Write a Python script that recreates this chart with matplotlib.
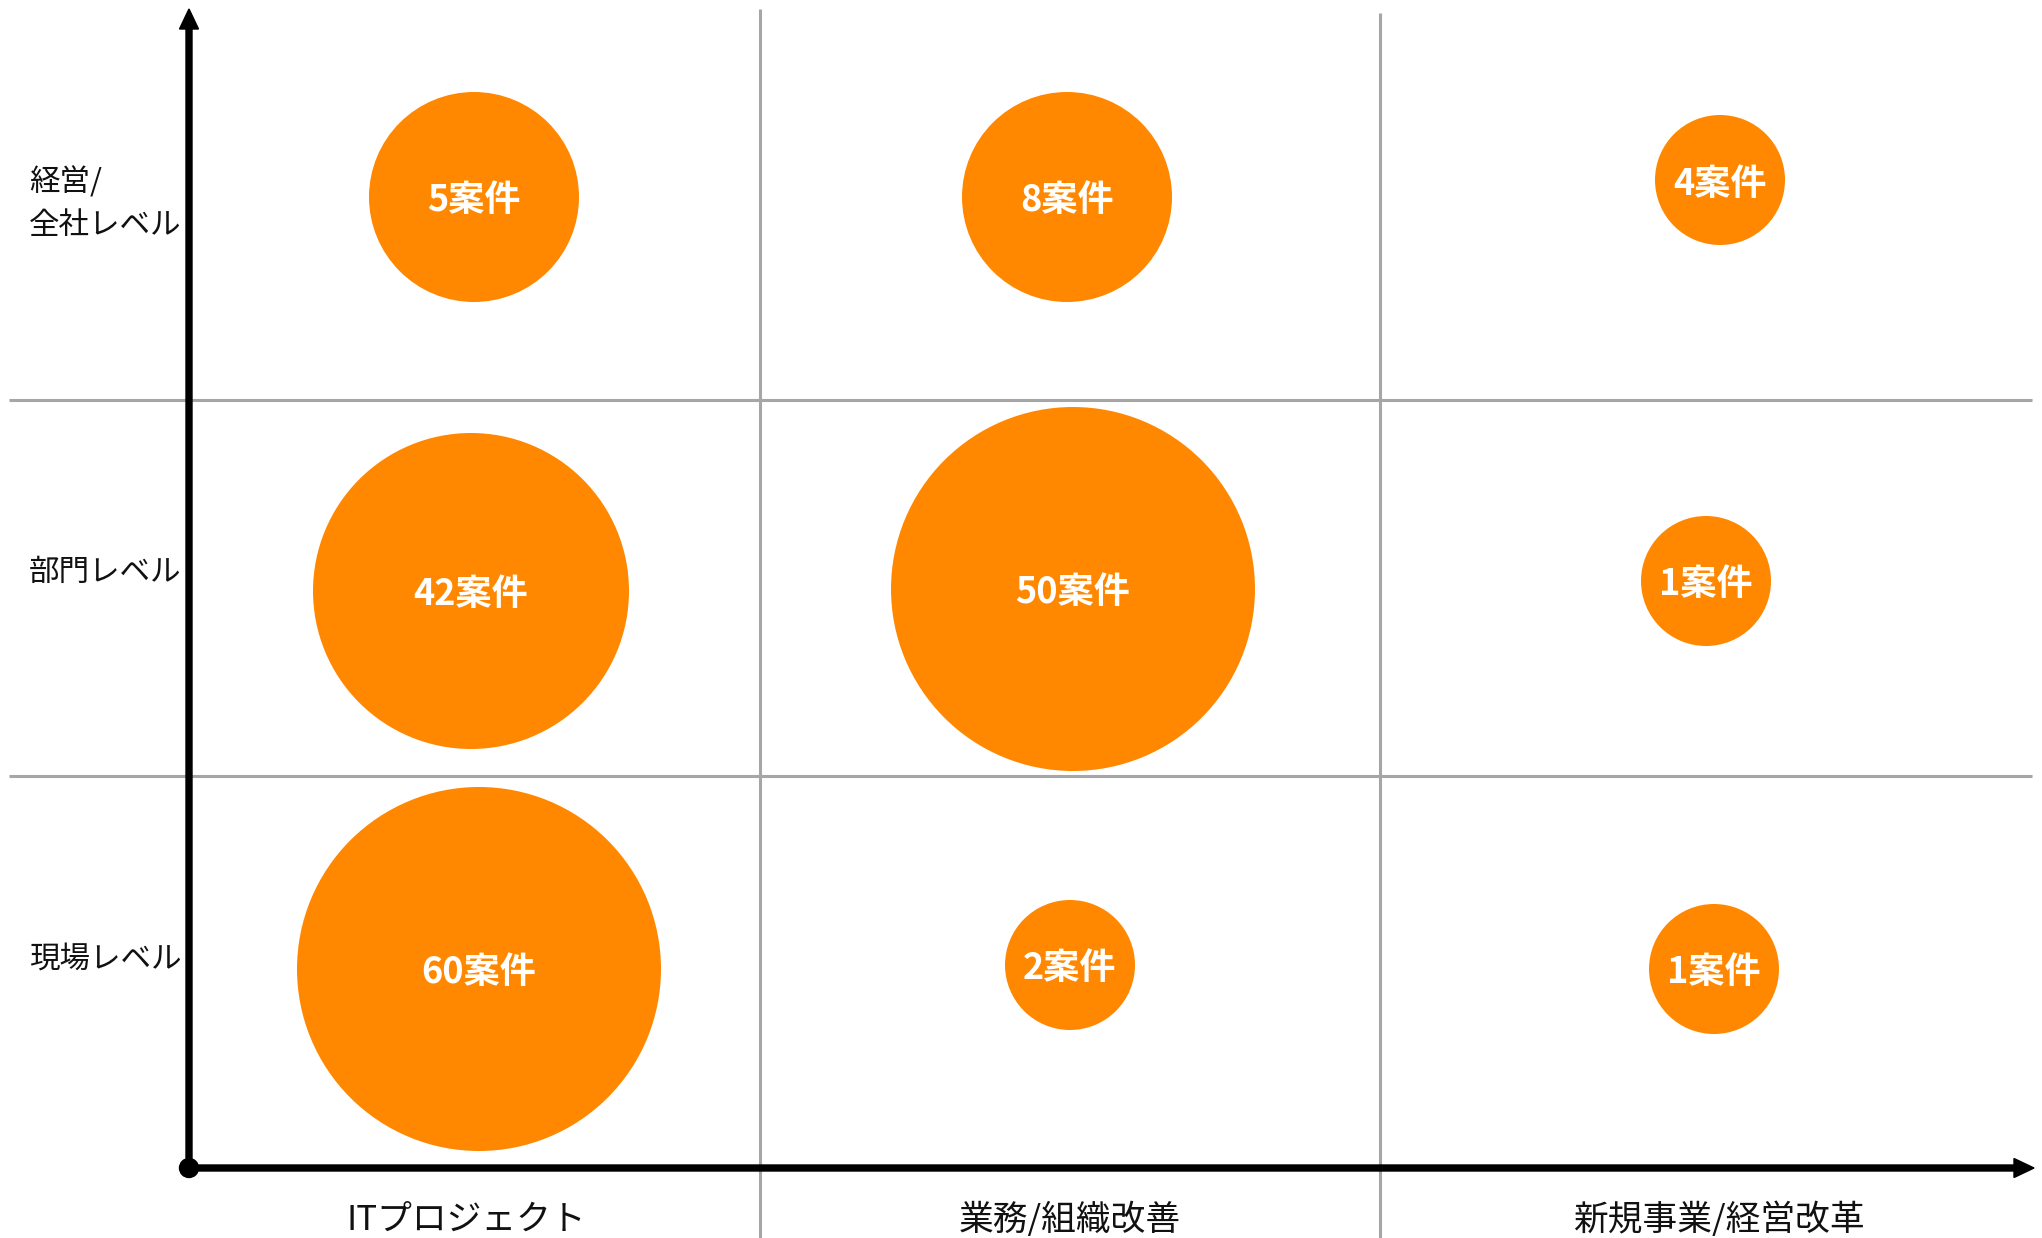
import matplotlib
matplotlib.use("Agg")
import matplotlib.pyplot as plt
from matplotlib.patches import Circle, FancyArrow

plt.rcParams['font.family'] = ['Noto Sans CJK JP', 'DejaVu Sans']

# ---- data ----
x_categories = ["ITプロジェクト", "業務/組織改善", "新規事業/経営改革"]
y_categories = ["経営/\n全社レベル", "部門レベル", "現場レベル"]
counts = [5, 8, 4, 42, 50, 1, 60, 2, 1]
bubble_labels = [f"{c}案件" for c in counts]
# bubble centres (pixel-space data coords) and radii
bubble_x = [474, 1067, 1720, 471, 1073, 1706, 479, 1070, 1714]
bubble_y = [197, 197, 180, 591, 589, 581, 969, 965, 969]
bubble_r = [105, 105, 65, 158, 182, 65, 182, 65, 65]

W, H = 2042, 1238
fig = plt.figure(figsize=(W / 100, H / 100), dpi=100)
ax = fig.add_axes([0, 0, 1, 1])
ax.set_xlim(0, W)
ax.set_ylim(H, 0)
ax.axis('off')

grid_c = '#A6A6A6'
# grid lines
for gx, top in zip([760, 1380], [9, 13]):
    ax.plot([gx, gx], [top, H], color=grid_c, lw=2.2, solid_capstyle='butt', zorder=1)
for gy in [400, 776]:
    ax.plot([9, 2032], [gy, gy], color=grid_c, lw=2.2, solid_capstyle='butt', zorder=1)

# bubbles
orange = '#FF8800'
for x, y, r, lab in zip(bubble_x, bubble_y, bubble_r, bubble_labels):
    ax.add_patch(Circle((x, y), r, facecolor=orange, edgecolor='none', zorder=2))
    ax.text(x, y + 4, lab, color='white', fontsize=26, fontweight='bold',
            ha='center', va='center', zorder=3)

# axes arrows
ox, oy = 189, 1168
ax.add_patch(FancyArrow(ox, oy, 2034 - ox, 0, width=6, head_width=19, head_length=20,
                        length_includes_head=True, color='black', zorder=4))
ax.add_patch(FancyArrow(ox, oy, 0, 9 - oy, width=6, head_width=19, head_length=20,
                        length_includes_head=True, color='black', zorder=4))
ax.add_patch(Circle((ox, oy), 9.5, color='black', zorder=5))

# category labels
x_label_pos = [466, 1070, 1719]
for xp, lab in zip(x_label_pos, x_categories):
    ax.text(xp, 1220, lab, fontsize=25, ha='center', va='center', color='#111111')

y_label_pos = [204, 572, 959]
for yp, lab in zip(y_label_pos, y_categories):
    ax.text(29, yp, lab, fontsize=22, ha='left', va='center', color='#111111',
            linespacing=1.45)

fig.savefig('out.png', dpi=100)
